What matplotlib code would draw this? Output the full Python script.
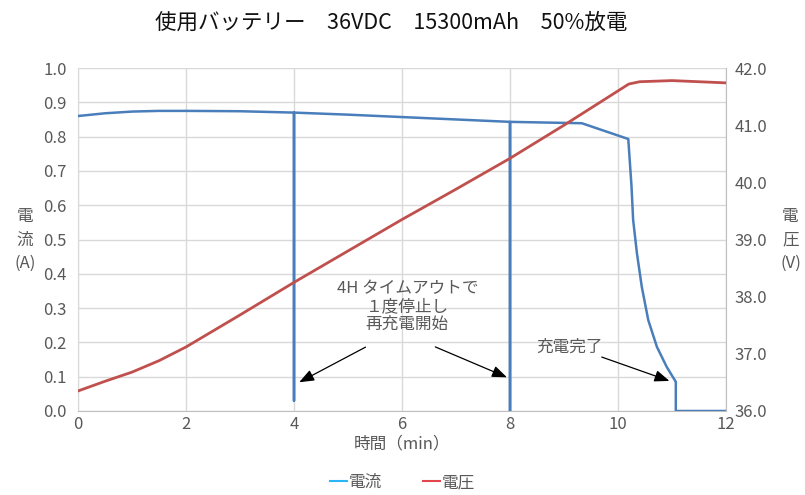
import matplotlib
matplotlib.use('Agg')
import matplotlib.pyplot as plt
from matplotlib.lines import Line2D

plt.rcParams['font.family'] = ['Noto Sans CJK JP', 'DejaVu Sans']

# 電流 (A)
t_current = [0, 0.5, 1.0, 1.5, 2.0, 3.0, 4.0, 4.0, 4.0, 5.0, 6.0, 7.0, 8.0, 8.0, 8.0,
             9.0, 9.33, 10.19, 10.25, 10.28, 10.35, 10.44, 10.56, 10.72, 10.9, 11.07, 11.07, 12.0]
current = [0.86, 0.868, 0.873, 0.875, 0.875, 0.874, 0.87, 0.03, 0.87, 0.864, 0.857, 0.85, 0.843, 0.0, 0.843,
           0.84, 0.839, 0.793, 0.654, 0.557, 0.46, 0.362, 0.265, 0.187, 0.129, 0.085, 0.0, 0.0]

# 電圧 (V)
t_voltage = [0, 0.5, 1.0, 1.5, 2.0, 3.0, 4.0, 5.0, 6.0, 7.0, 8.0, 9.0, 9.5, 10.0, 10.2, 10.4, 11.0, 11.5, 12.0]
voltage = [36.35, 36.52, 36.68, 36.88, 37.12, 37.68, 38.25, 38.8, 39.35, 39.88, 40.42, 41.0, 41.3, 41.6,
           41.72, 41.76, 41.78, 41.76, 41.74]

title = '使用バッテリー　36VDC　15300mAh　50%放電'
note_timeout = '4H タイムアウトで\n１度停止し\n再充電開始'
note_done = '充電完了'

gray = '#595959'
fig = plt.figure(figsize=(8.05, 4.95), dpi=100)
ax1 = fig.add_axes([0.0969, 0.1697, 0.805, 0.6929])
ax2 = ax1.twinx()

ax1.plot(t_current, current, color='#4A7EBB', lw=1.8, zorder=3, solid_joinstyle='round')
ax2.plot(t_voltage, voltage, color='#C0504D', lw=2, zorder=3)

ax1.set_xlim(0, 12)
ax1.set_ylim(0, 1.0)
ax2.set_ylim(36, 42)
ax1.set_xticks(range(0, 13, 2))
ax1.set_yticks([i / 10 for i in range(11)])
ax1.set_yticklabels(['%.1f' % (i / 10) for i in range(11)])
ax2.set_yticks(range(36, 43))
ax2.set_yticklabels(['%.1f' % v for v in range(36, 43)])
ax1.grid(True, color='#d9d9d9', lw=1)
ax1.set_axisbelow(True)

for ax in (ax1, ax2):
    ax.tick_params(length=0, labelsize=12, colors=gray)
    for s in ax.spines.values():
        s.set_visible(False)
ax1.spines['bottom'].set_visible(True)
ax1.spines['bottom'].set_color('#bfbfbf')
ax1.spines['left'].set_visible(True)
ax1.spines['left'].set_color('#d9d9d9')
ax2.spines['right'].set_visible(True)
ax2.spines['right'].set_color('#bfbfbf')
ax1.tick_params(axis='y', pad=8)
ax2.tick_params(axis='y', pad=6)

ax1.set_xlabel('時間（min）', fontsize=12, color=gray, labelpad=2)
fig.text(0.031, 0.515, '電\n流\n(A)', ha='center', va='center', fontsize=12, color=gray, linespacing=1.5)
fig.text(0.982, 0.515, '電\n圧\n(V)', ha='center', va='center', fontsize=12, color=gray, linespacing=1.5)
fig.text(0.486, 0.955, title, ha='center', va='center', fontsize=15.5, color='#111111')

ax1.text(6.1, 0.305, note_timeout, ha='center', va='center', fontsize=12, color=gray, linespacing=1.05)
ap = dict(arrowstyle='-|>,head_length=0.9,head_width=0.35', color='black', lw=0.9)
ax1.annotate('', xy=(4.05, 0.08), xytext=(5.37, 0.19), arrowprops=ap)
ax1.annotate('', xy=(7.99, 0.095), xytext=(6.57, 0.19), arrowprops=ap)
ax1.text(9.1, 0.185, note_done, ha='center', va='center', fontsize=12, color=gray)
ax1.annotate('', xy=(11.0, 0.085), xytext=(9.65, 0.16), arrowprops=ap)

handles = [Line2D([], [], color='#29B6F6', lw=1.5), Line2D([], [], color='#E0464B', lw=1.5)]
fig.legend(handles, ['電流', '電圧'], loc='center', bbox_to_anchor=(0.5, 0.025), ncol=2, frameon=False,
           fontsize=12, handlelength=1.0, handletextpad=0.1, columnspacing=2.5, labelcolor=gray)

fig.savefig('out.png', dpi=100)
